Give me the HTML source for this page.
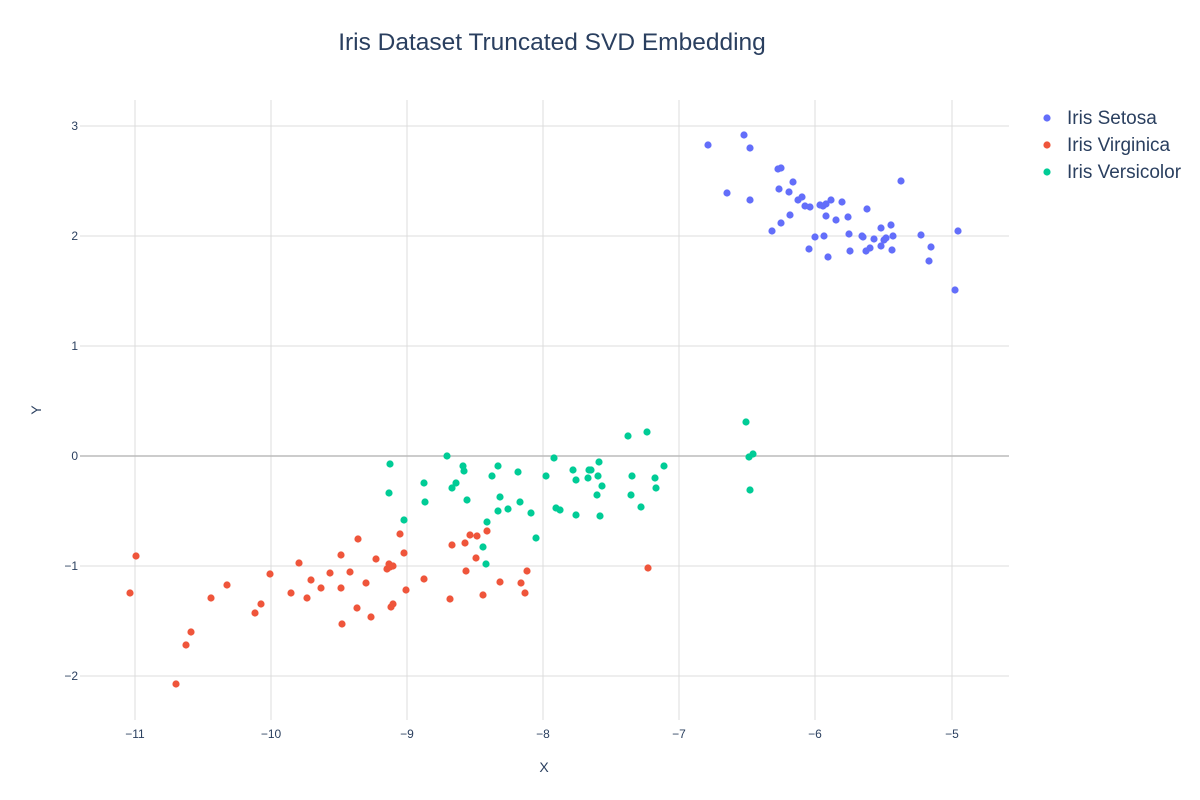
<!DOCTYPE html>
<html><head><meta charset="utf-8"><style>body{margin:0;background:#fff}svg{display:block;font-family:"Liberation Sans",sans-serif}</style></head>
<body>
<svg width="1200" height="800" xmlns="http://www.w3.org/2000/svg">
<rect width="1200" height="800" fill="#fff"/>
<text x="552" y="50" text-anchor="middle" font-size="24.5" fill="#2a3f5f">Iris Dataset Truncated SVD Embedding</text>
<g stroke="#dcdcdc" stroke-width="1">
<line x1="135" y1="100" x2="135" y2="720"/><line x1="271" y1="100" x2="271" y2="720"/><line x1="407" y1="100" x2="407" y2="720"/><line x1="543" y1="100" x2="543" y2="720"/><line x1="679" y1="100" x2="679" y2="720"/><line x1="815" y1="100" x2="815" y2="720"/><line x1="952" y1="100" x2="952" y2="720"/>
<line x1="80" y1="126" x2="1009" y2="126"/><line x1="80" y1="236" x2="1009" y2="236"/><line x1="80" y1="346" x2="1009" y2="346"/><line x1="80" y1="566" x2="1009" y2="566"/><line x1="80" y1="676" x2="1009" y2="676"/>
</g>
<line x1="80" y1="456" x2="1009" y2="456" stroke="#bcbcbc" stroke-width="1.5"/>
<g font-size="12" fill="#2a3f5f" text-anchor="middle">
<text x="135" y="738">−11</text><text x="271" y="738">−10</text><text x="407" y="738">−9</text><text x="543" y="738">−8</text><text x="679" y="738">−7</text><text x="815" y="738">−6</text><text x="952" y="738">−5</text>
</g>
<g font-size="12" fill="#2a3f5f" text-anchor="end">
<text x="78" y="130">3</text><text x="78" y="240">2</text><text x="78" y="350">1</text><text x="78" y="460">0</text><text x="78" y="570">−1</text><text x="78" y="680">−2</text>
</g>
<text x="544" y="772" text-anchor="middle" font-size="14" fill="#2a3f5f">X</text>
<text transform="translate(41,410) rotate(-90)" text-anchor="middle" font-size="14" fill="#2a3f5f">Y</text>
<g fill="#636efa">
<circle cx="708" cy="145" r="3.6"/><circle cx="744" cy="135" r="3.6"/><circle cx="750" cy="148" r="3.6"/><circle cx="727" cy="193" r="3.6"/><circle cx="750" cy="200" r="3.6"/><circle cx="778" cy="169" r="3.6"/><circle cx="781" cy="168" r="3.6"/><circle cx="779" cy="189" r="3.6"/><circle cx="789" cy="192" r="3.6"/><circle cx="793" cy="182" r="3.6"/><circle cx="798" cy="200" r="3.6"/><circle cx="802" cy="197" r="3.6"/><circle cx="805" cy="206" r="3.6"/><circle cx="810" cy="207" r="3.6"/><circle cx="781" cy="223" r="3.6"/><circle cx="790" cy="215" r="3.6"/><circle cx="772" cy="231" r="3.6"/><circle cx="815" cy="237" r="3.6"/><circle cx="809" cy="249" r="3.6"/><circle cx="823" cy="206" r="3.6"/><circle cx="826" cy="204" r="3.6"/><circle cx="831" cy="200" r="3.6"/><circle cx="836" cy="220" r="3.6"/><circle cx="842" cy="202" r="3.6"/><circle cx="848" cy="217" r="3.6"/><circle cx="824" cy="236" r="3.6"/><circle cx="828" cy="257" r="3.6"/><circle cx="849" cy="234" r="3.6"/><circle cx="850" cy="251" r="3.6"/><circle cx="863" cy="237" r="3.6"/><circle cx="866" cy="251" r="3.6"/><circle cx="867" cy="209" r="3.6"/><circle cx="870" cy="248" r="3.6"/><circle cx="874" cy="239" r="3.6"/><circle cx="881" cy="246" r="3.6"/><circle cx="881" cy="228" r="3.6"/><circle cx="886" cy="238" r="3.6"/><circle cx="891" cy="225" r="3.6"/><circle cx="893" cy="236" r="3.6"/><circle cx="892" cy="250" r="3.6"/><circle cx="901" cy="181" r="3.6"/><circle cx="921" cy="235" r="3.6"/><circle cx="931" cy="247" r="3.6"/><circle cx="929" cy="261" r="3.6"/><circle cx="958" cy="231" r="3.6"/><circle cx="955" cy="290" r="3.6"/><circle cx="826" cy="216" r="3.6"/><circle cx="820" cy="205" r="3.6"/><circle cx="862" cy="236" r="3.6"/><circle cx="884" cy="240" r="3.6"/>
</g>
<g fill="#ef553b">
<circle cx="130" cy="593" r="3.6"/><circle cx="136" cy="556" r="3.6"/><circle cx="176" cy="684" r="3.6"/><circle cx="186" cy="645" r="3.6"/><circle cx="191" cy="632" r="3.6"/><circle cx="211" cy="598" r="3.6"/><circle cx="227" cy="585" r="3.6"/><circle cx="255" cy="613" r="3.6"/><circle cx="261" cy="604" r="3.6"/><circle cx="270" cy="574" r="3.6"/><circle cx="291" cy="593" r="3.6"/><circle cx="299" cy="563" r="3.6"/><circle cx="307" cy="598" r="3.6"/><circle cx="311" cy="580" r="3.6"/><circle cx="321" cy="588" r="3.6"/><circle cx="330" cy="573" r="3.6"/><circle cx="341" cy="555" r="3.6"/><circle cx="341" cy="588" r="3.6"/><circle cx="342" cy="624" r="3.6"/><circle cx="350" cy="572" r="3.6"/><circle cx="358" cy="539" r="3.6"/><circle cx="357" cy="608" r="3.6"/><circle cx="366" cy="583" r="3.6"/><circle cx="371" cy="617" r="3.6"/><circle cx="376" cy="559" r="3.6"/><circle cx="387" cy="569" r="3.6"/><circle cx="389" cy="564" r="3.6"/><circle cx="391" cy="607" r="3.6"/><circle cx="393" cy="604" r="3.6"/><circle cx="390" cy="567" r="3.6"/><circle cx="400" cy="534" r="3.6"/><circle cx="404" cy="553" r="3.6"/><circle cx="406" cy="590" r="3.6"/><circle cx="424" cy="579" r="3.6"/><circle cx="450" cy="599" r="3.6"/><circle cx="452" cy="545" r="3.6"/><circle cx="465" cy="543" r="3.6"/><circle cx="466" cy="571" r="3.6"/><circle cx="470" cy="535" r="3.6"/><circle cx="476" cy="558" r="3.6"/><circle cx="477" cy="536" r="3.6"/><circle cx="483" cy="595" r="3.6"/><circle cx="487" cy="531" r="3.6"/><circle cx="500" cy="582" r="3.6"/><circle cx="521" cy="583" r="3.6"/><circle cx="525" cy="593" r="3.6"/><circle cx="527" cy="571" r="3.6"/><circle cx="648" cy="568" r="3.6"/><circle cx="393" cy="566" r="3.6"/>
</g>
<g fill="#00cc96">
<circle cx="390" cy="464" r="3.6"/><circle cx="389" cy="493" r="3.6"/><circle cx="404" cy="520" r="3.6"/><circle cx="424" cy="483" r="3.6"/><circle cx="425" cy="502" r="3.6"/><circle cx="447" cy="456" r="3.6"/><circle cx="452" cy="488" r="3.6"/><circle cx="456" cy="483" r="3.6"/><circle cx="463" cy="466" r="3.6"/><circle cx="464" cy="471" r="3.6"/><circle cx="467" cy="500" r="3.6"/><circle cx="492" cy="476" r="3.6"/><circle cx="498" cy="466" r="3.6"/><circle cx="500" cy="497" r="3.6"/><circle cx="498" cy="511" r="3.6"/><circle cx="508" cy="509" r="3.6"/><circle cx="483" cy="547" r="3.6"/><circle cx="487" cy="522" r="3.6"/><circle cx="486" cy="564" r="3.6"/><circle cx="518" cy="472" r="3.6"/><circle cx="520" cy="502" r="3.6"/><circle cx="531" cy="513" r="3.6"/><circle cx="536" cy="538" r="3.6"/><circle cx="546" cy="476" r="3.6"/><circle cx="554" cy="458" r="3.6"/><circle cx="556" cy="508" r="3.6"/><circle cx="560" cy="510" r="3.6"/><circle cx="573" cy="470" r="3.6"/><circle cx="576" cy="480" r="3.6"/><circle cx="576" cy="515" r="3.6"/><circle cx="589" cy="470" r="3.6"/><circle cx="591" cy="470" r="3.6"/><circle cx="588" cy="478" r="3.6"/><circle cx="599" cy="462" r="3.6"/><circle cx="598" cy="476" r="3.6"/><circle cx="597" cy="495" r="3.6"/><circle cx="602" cy="486" r="3.6"/><circle cx="600" cy="516" r="3.6"/><circle cx="628" cy="436" r="3.6"/><circle cx="632" cy="476" r="3.6"/><circle cx="631" cy="495" r="3.6"/><circle cx="641" cy="507" r="3.6"/><circle cx="647" cy="432" r="3.6"/><circle cx="655" cy="478" r="3.6"/><circle cx="656" cy="488" r="3.6"/><circle cx="664" cy="466" r="3.6"/><circle cx="746" cy="422" r="3.6"/><circle cx="749" cy="457" r="3.6"/><circle cx="753" cy="454" r="3.6"/><circle cx="750" cy="490" r="3.6"/>
</g>
<g font-size="19" fill="#2a3f5f">
<circle cx="1047" cy="118" r="3.6" fill="#636efa"/><text x="1067" y="124">Iris Setosa</text>
<circle cx="1047" cy="145" r="3.6" fill="#ef553b"/><text x="1067" y="151">Iris Virginica</text>
<circle cx="1047" cy="172" r="3.6" fill="#00cc96"/><text x="1067" y="178">Iris Versicolor</text>
</g>
</svg>
</body></html>
